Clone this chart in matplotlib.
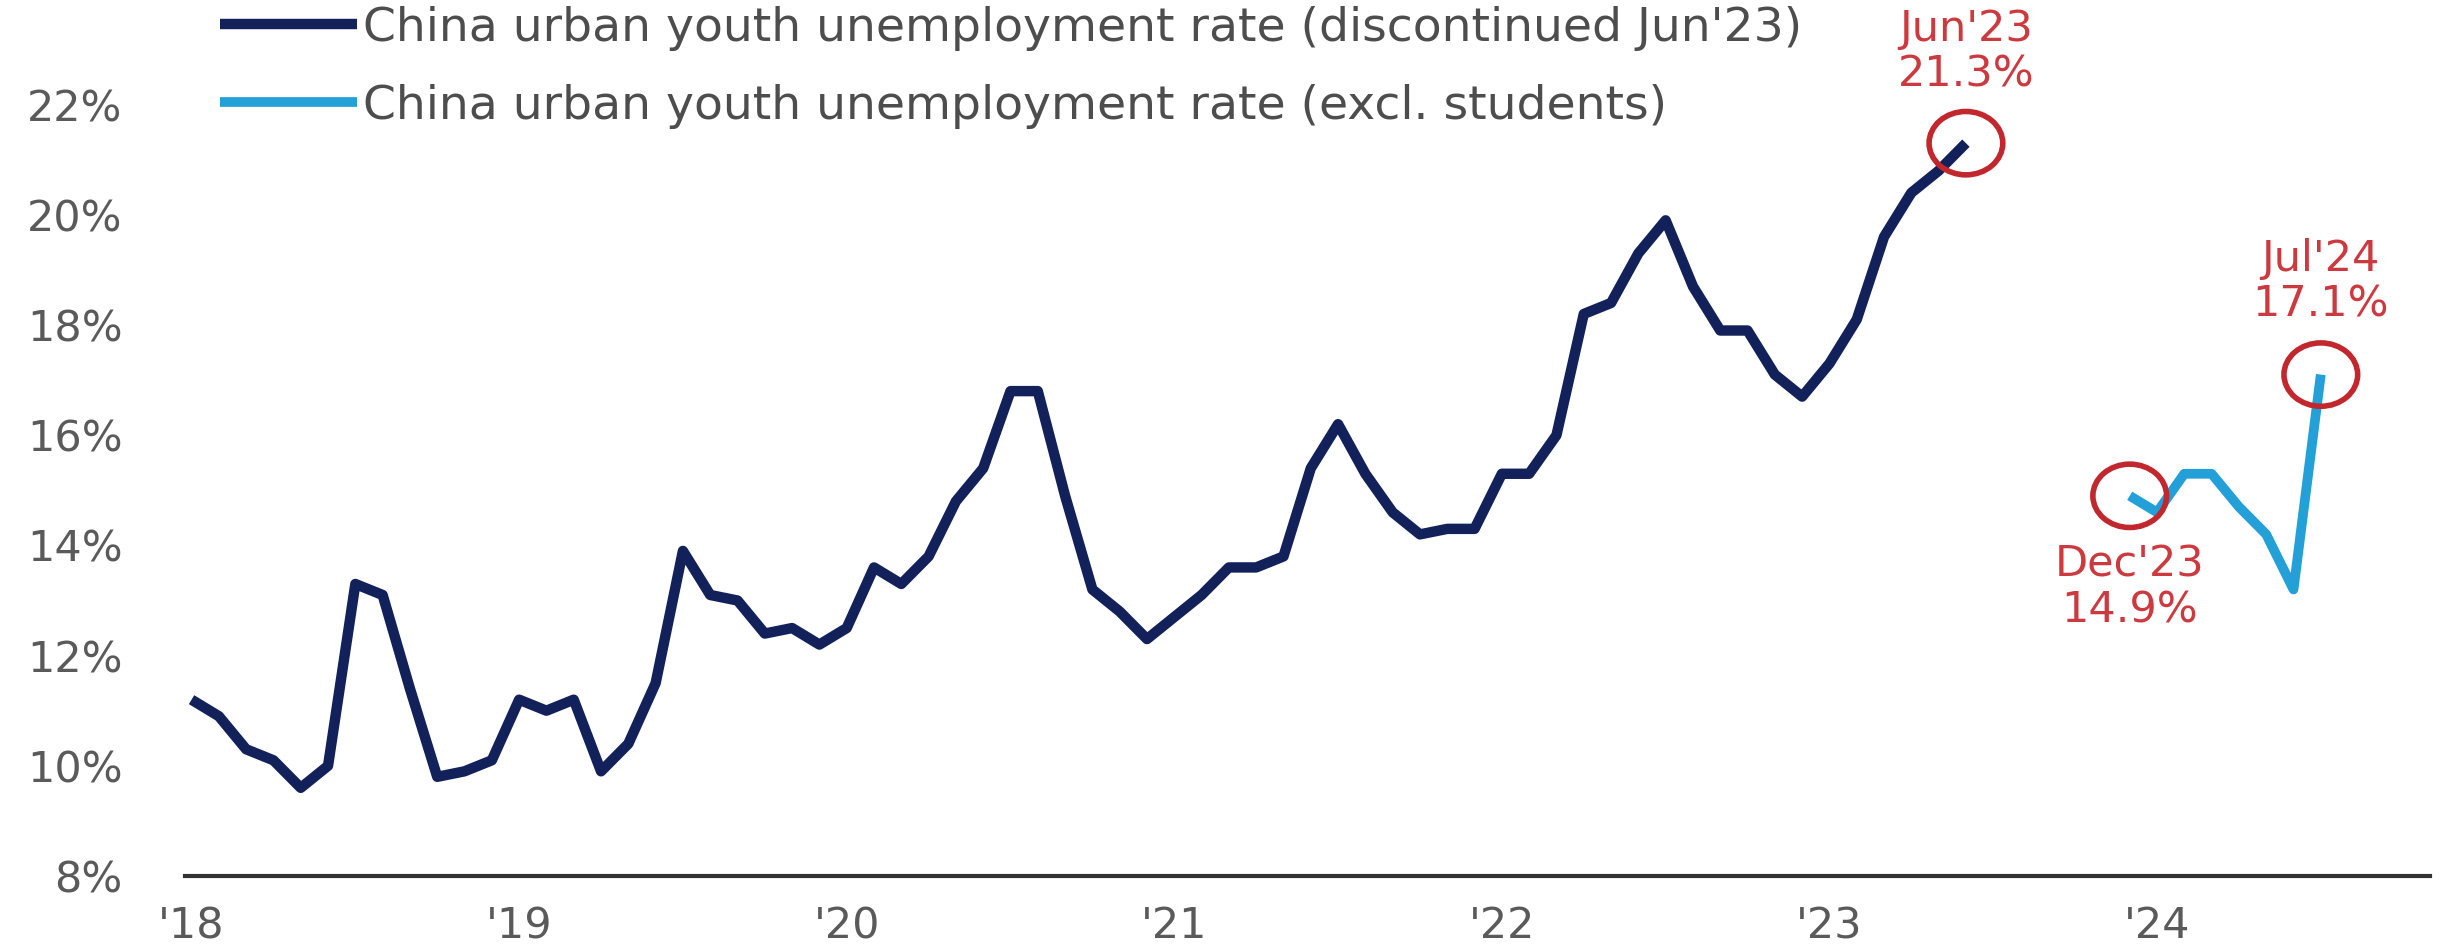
import matplotlib.pyplot as plt
from matplotlib.patches import Ellipse

# Urban youth (16-24) unemployment rate, %, monthly from Jan 2018
rate_2018 = [11.2, 10.9, 10.3, 10.1, 9.6, 10.0, 13.3, 13.1, 11.4, 9.8, 9.9, 10.1]
rate_2019 = [11.2, 11.0, 11.2, 9.9, 10.4, 11.5, 13.9, 13.1, 13.0, 12.4, 12.5, 12.2]
rate_2020 = [12.5, 13.6, 13.3, 13.8, 14.8, 15.4, 16.8, 16.8, 14.9, 13.2, 12.8, 12.3]
rate_2021 = [12.7, 13.1, 13.6, 13.6, 13.8, 15.4, 16.2, 15.3, 14.6, 14.2, 14.3, 14.3]
rate_2022 = [15.3, 15.3, 16.0, 18.2, 18.4, 19.3, 19.9, 18.7, 17.9, 17.9, 17.1, 16.7]
rate_2023 = [17.3, 18.1, 19.6, 20.4, 20.8, 21.3]  # series stopped after Jun'23

# Revised series excluding students, Dec 2023 - Jul 2024
rate_excl = [14.9, 14.6, 15.3, 15.3, 14.7, 14.2, 13.2, 17.1]
excl_start = 71  # month index of Dec 2023 (Jan 2018 = 0)

year_labels = ["'18", "'19", "'20", "'21", "'22", "'23", "'24"]
y_ticks = [8, 10, 12, 14, 16, 18, 20, 22]

# callouts: (month index, value, label, vertical text offset in points)
callouts = [
    (65, 21.3, "Jun'23\n21.3%", 66),
    (71, 14.9, "Dec'23\n14.9%", -66),
    (78, 17.1, "Jul'24\n17.1%", 67),
]

NAVY = '#13215a'
SKY = '#23a0d7'
RED = '#c1272d'
GREY = '#5a5a5a'

old_rate = rate_2018 + rate_2019 + rate_2020 + rate_2021 + rate_2022 + rate_2023
old_x = list(range(len(old_rate)))
excl_x = list(range(excl_start, excl_start + len(rate_excl)))

plt.rcParams['font.family'] = ['DejaVu Sans']

fig = plt.figure(figsize=(24.61, 9.5), dpi=100)
ax = fig.add_axes([185 / 2461, 74 / 950, 2245 / 2461, 876 / 950])

ax.plot(old_x, old_rate, color=NAVY, lw=7.5, solid_joinstyle='round',
        solid_capstyle='butt', zorder=3,
        label='China urban youth unemployment rate (discontinued Jun\'23)')
ax.plot(excl_x, rate_excl, color=SKY, lw=7, solid_joinstyle='round',
        solid_capstyle='butt', zorder=3,
        label='China urban youth unemployment rate (excl. students)')

for mx, val, text, dy in callouts:
    ax.add_patch(Ellipse((mx, val), width=2.7, height=1.15, fill=False,
                         ec=RED, lw=4, zorder=4))
    ax.annotate(text, xy=(mx, val), xytext=(0, dy), textcoords='offset points',
                ha='center', va='center', fontsize=31, color='#cc3a3f',
                linespacing=1.1)

ax.set_xlim(-0.24, 82.0)
ax.set_ylim(8, 8 + 876 / 55.1)
ax.set_xticks([12 * i for i in range(len(year_labels))])
ax.set_xticklabels(year_labels)
ax.set_yticks(y_ticks)
ax.set_yticklabels([f'{t}%' for t in y_ticks])
ax.tick_params(axis='both', length=0, labelsize=31, colors=GREY)
ax.tick_params(axis='y', pad=45)
ax.tick_params(axis='x', pad=21)

for side in ('top', 'right', 'left'):
    ax.spines[side].set_visible(False)
ax.spines['bottom'].set_color('#333333')
ax.spines['bottom'].set_linewidth(3)

leg = ax.legend(loc='upper left', bbox_to_anchor=(220 / 2461, 1 - 6 / 950),
                bbox_transform=fig.transFigure, frameon=False, fontsize=34,
                handlelength=2.9, handletextpad=0.13, labelspacing=0.69,
                borderpad=0, borderaxespad=0)
for t in leg.get_texts():
    t.set_color('#4d4d4d')

fig.savefig('out.png', dpi=100)
